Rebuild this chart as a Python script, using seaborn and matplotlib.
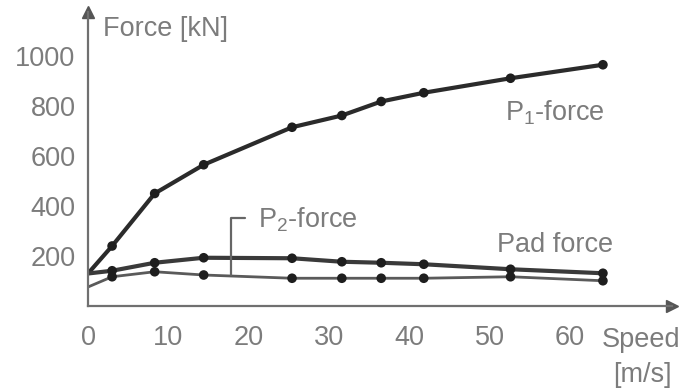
import matplotlib
matplotlib.use("Agg")
import matplotlib.pyplot as plt
import seaborn as sns
import pandas as pd

# Data
speed = [0, 3, 8.3, 14.4, 25.4, 31.6, 36.5, 41.8, 52.6, 64.1]
p1_force = [130, 240, 450, 565, 715, 762, 818, 853, 911, 965]
pad_force = [130, 141, 173, 193, 191, 177, 173, 167, 147, 131]
p2_force = [76, 117, 137, 124, 111, 111, 111, 111, 117, 101]
x_ticks = [0, 10, 20, 30, 40, 50, 60]
y_ticks = [200, 400, 600, 800, 1000]

sns.set_theme(style="white")
plt.rcParams['font.family'] = ['Liberation Sans', 'DejaVu Sans']
plt.rcParams['mathtext.fontset'] = 'custom'
plt.rcParams['mathtext.rm'] = 'Liberation Sans'
plt.rcParams['mathtext.it'] = 'Liberation Sans'

df = pd.DataFrame({"speed": speed, "P1": p1_force, "Pad": pad_force, "P2": p2_force})

fig = plt.figure(figsize=(6.8, 3.9), dpi=100)
ax = fig.add_axes([88/680, 84/390, 584/680, 294/390])

styles = {"P1": ("#2b2b2b", 3.0), "Pad": ("#3a3a3a", 3.0), "P2": ("#5a5a5a", 2.0)}
for col, (c, lw) in styles.items():
    sns.lineplot(data=df, x="speed", y=col, ax=ax, color=c, linewidth=lw)
    sns.scatterplot(data=df.iloc[1:], x="speed", y=col, ax=ax, color="#1e1e1e",
                    s=48, edgecolor="none", zorder=5)

ax.set_xlim(0, 72.7)
ax.set_ylim(0, 1176)
ax.set_xticks(x_ticks)
ax.set_yticks(y_ticks)
ax.set_xlabel("")
ax.set_ylabel("")

axis_col = "#707070"
for s in ["top", "right"]:
    ax.spines[s].set_visible(False)
for s in ["left", "bottom"]:
    ax.spines[s].set_color(axis_col)
    ax.spines[s].set_linewidth(1.6)
ax.tick_params(axis="both", direction="out", length=5, width=1.3, color=axis_col,
               labelcolor="#7c7c7c", labelsize=19.5)
ax.tick_params(axis="x", pad=9)
ax.tick_params(axis="y", pad=4)

# arrow heads
ax.plot(1, 0, ">", transform=ax.transAxes, color="#555555", ms=8, clip_on=False)
ax.plot(0, 1, "^", transform=ax.transAxes, color="#555555", ms=8, clip_on=False)

txt = "#7c7c7c"
fs = 19.5
ax.text(1.9, 1106, "Force [kN]", fontsize=fs, color=txt, va="center", ha="left")
ax.text(51.9, 772, "P$_1$-force", fontsize=fs, color=txt, va="center", ha="left")
ax.text(21.2, 346, "P$_2$-force", fontsize=fs, color=txt, va="center", ha="left")
ax.text(50.9, 244, "Pad force", fontsize=fs, color=txt, va="center", ha="left")
ax.text(680/584 - 88/584, -34/294, "Speed", fontsize=fs, color=txt, va="center", ha="right",
        transform=ax.transAxes, clip_on=False)
ax.text(1.0, -69/294, "[m/s]", fontsize=fs, color=txt, va="center", ha="right",
        transform=ax.transAxes, clip_on=False)

# bracket pointing to P2 line
ax.plot([17.8, 17.8, 19.6], [124, 352, 352], color="#666666", lw=1.6)

fig.savefig("out.png", dpi=100)
